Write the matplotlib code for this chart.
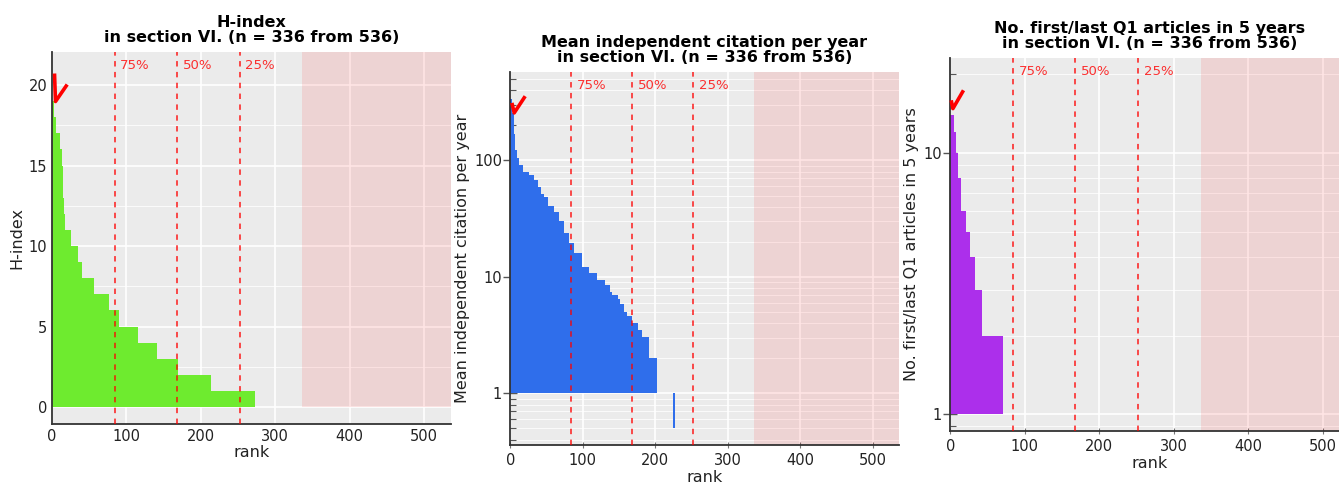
import matplotlib
matplotlib.use("Agg")
import matplotlib.pyplot as plt
import matplotlib.ticker as mticker
from matplotlib.path import Path
import numpy as np

# ---- data (run-length: value, number of ranks with that value) ----
n_section = 336
n_total = 536
quartile_ranks = [84, 168, 252]
quartile_labels = ["75%", "50%", "25%"]

hindex_values = [19, 18, 17, 16, 15, 13, 12, 11, 10, 9, 8, 7, 6, 5, 4, 3, 2, 1, 0]
hindex_counts = [3, 3, 5, 2, 2, 1, 1, 8, 10, 5, 16, 20, 14, 25, 26, 28, 45, 59, 63]

citation_values = [340, 255, 170, 122, 104, 91, 80, 75, 68, 59, 52, 49, 41, 36, 30, 24,
                   19.4, 16, 12.2, 10.7, 9.4, 8.5, 7.4, 7.0, 6.5, 5.9, 5.0, 4.6, 4.0,
                   3.5, 3.05, 2.0, 1.46, 1.0, 0.5, 0]
citation_counts = [3, 2, 2, 2, 3, 5, 9, 7, 5, 4, 5, 5, 8, 7, 7, 7,
                   7, 11, 10, 10, 11, 7, 3, 9, 2, 6, 4, 7, 8,
                   6, 10, 10, 1, 21, 3, 109]

q1_values = [14, 12, 10, 8, 6, 5, 4, 3, 2, 1, 0]
q1_counts = [5, 3, 3, 3, 7, 5, 7, 10, 28, 60, 205]

title_suffix = f"in section VI. (n = {n_section} from {n_total})"

# hand-drawn check mark shape (pixel offsets from the top bar's corner)
panels = [
    dict(name="H-index", ylabel="H-index", values=hindex_values, counts=hindex_counts,
         color="#6eeb2f", log=False, ylim=(-1.05, 22.05),
         rect=[52, 52, 451, 424], check=[(2, 28), (3, 0), (14.7, 17)]),
    dict(name="Mean independent citation per year", ylabel="Mean independent citation per year",
         values=citation_values, counts=citation_counts,
         color="#2f6eeb", log=True, ylim=(0.36, 575),
         rect=[510.3, 72, 898.8, 445], check=[(1.4, -3.4), (3.7, -13.4), (14.7, 3.3)]),
    dict(name="No. first/last Q1 articles in 5 years", ylabel="No. first/last Q1 articles in 5 years",
         values=q1_values, counts=q1_counts,
         color="#ac2feb", log=True, ylim=(0.863, 23.1),
         rect=[950.3, 58, 1349.5, 431], check=[(0.7, 15.2), (2.4, 6.9), (13, 25.2)]),
]

W, H = 1339, 483
fig = plt.figure(figsize=(W / 100, H / 100), dpi=100)

for p in panels:
    l, t, r, b = p["rect"]
    ax = fig.add_axes([l / W, (H - b) / H, (r - l) / W, (b - t) / H])
    ax.set_facecolor("#ebebeb")

    vals = np.repeat(np.array(p["values"], dtype=float), p["counts"])
    ranks = np.arange(len(vals))
    keep = vals > 0

    if p["log"]:
        ax.set_yscale("log")
        ax.bar(ranks[keep], vals[keep] - 1, bottom=1, width=1, align="edge",
               color=p["color"], lw=0, zorder=2)
        ax.axvspan(n_section, n_total, color="red", alpha=0.1, lw=0, zorder=1)
        ax.yaxis.set_major_formatter(mticker.FuncFormatter(lambda v, pos: f"{v:g}"))
        ax.yaxis.set_minor_locator(mticker.LogLocator(subs=np.arange(2, 10)))
        ax.yaxis.set_minor_formatter(mticker.NullFormatter())
        ax.tick_params(axis="y", which="major", direction="inout", length=10, width=1,
                       color="#555555", pad=1)
        ax.tick_params(axis="y", which="minor", direction="in", length=4, width=0.8,
                       color="#555555")
        ax.tick_params(axis="x", which="major", direction="inout", length=5, width=0.8,
                       color="#777777")
    else:
        ax.bar(ranks[keep], vals[keep], width=1, align="edge",
               color=p["color"], lw=0, zorder=2)
        ax.fill_between([n_section, n_total], 0, p["ylim"][1], color="red", alpha=0.1,
                        lw=0, zorder=1)
        ax.yaxis.set_major_locator(mticker.MultipleLocator(5))
        ax.yaxis.set_minor_locator(mticker.MultipleLocator(2.5))
        ax.tick_params(which="both", length=0)

    ax.set_xlim(0, n_total)
    ax.set_ylim(*p["ylim"])
    ax.set_xticks(np.arange(0, 501, 100))

    ax.grid(which="major", color="white", lw=1.2, zorder=0)
    ax.grid(which="minor", axis="y", color="white", lw=0.7, alpha=0.8, zorder=0)
    ax.set_axisbelow(True)

    for q, lab in zip(quartile_ranks, quartile_labels):
        ax.axvline(q, color="red", ls=(0, (3, 3)), lw=1.3, alpha=0.75, zorder=3)
        ax.annotate(lab, xy=(q, 0.965), xycoords=ax.get_xaxis_transform(),
                    xytext=(4, 0), textcoords="offset points", ha="left", va="center",
                    color="red", alpha=0.8, fontsize=9.5)

    # red check mark next to the top-ranked person
    verts = np.array(p["check"], dtype=float)
    size_px = 2 * np.abs(verts).max()
    check = Path(verts, [Path.MOVETO, Path.LINETO, Path.LINETO])
    ax.plot([0], [vals[0]], marker=check, ms=size_px * 0.72, mfc="none", mec="red",
            mew=2.6, clip_on=False, zorder=5, solid_joinstyle="miter")

    for side in ["top", "right"]:
        ax.spines[side].set_visible(False)
    for side in ["left", "bottom"]:
        ax.spines[side].set_color("#333333")
        ax.spines[side].set_linewidth(1.3)

    ax.tick_params(labelsize=10.5, labelcolor="#222222")
    ax.set_xlabel("rank", fontsize=11.5, color="#222222", labelpad=1)
    ax.set_ylabel(p["ylabel"], fontsize=11.5, color="#222222", labelpad=3)
    ax.set_title(p["name"] + "\n" + title_suffix, fontsize=11.5, fontweight="bold",
                 linespacing=1.0, pad=7)

fig.savefig("out.png", dpi=100)
